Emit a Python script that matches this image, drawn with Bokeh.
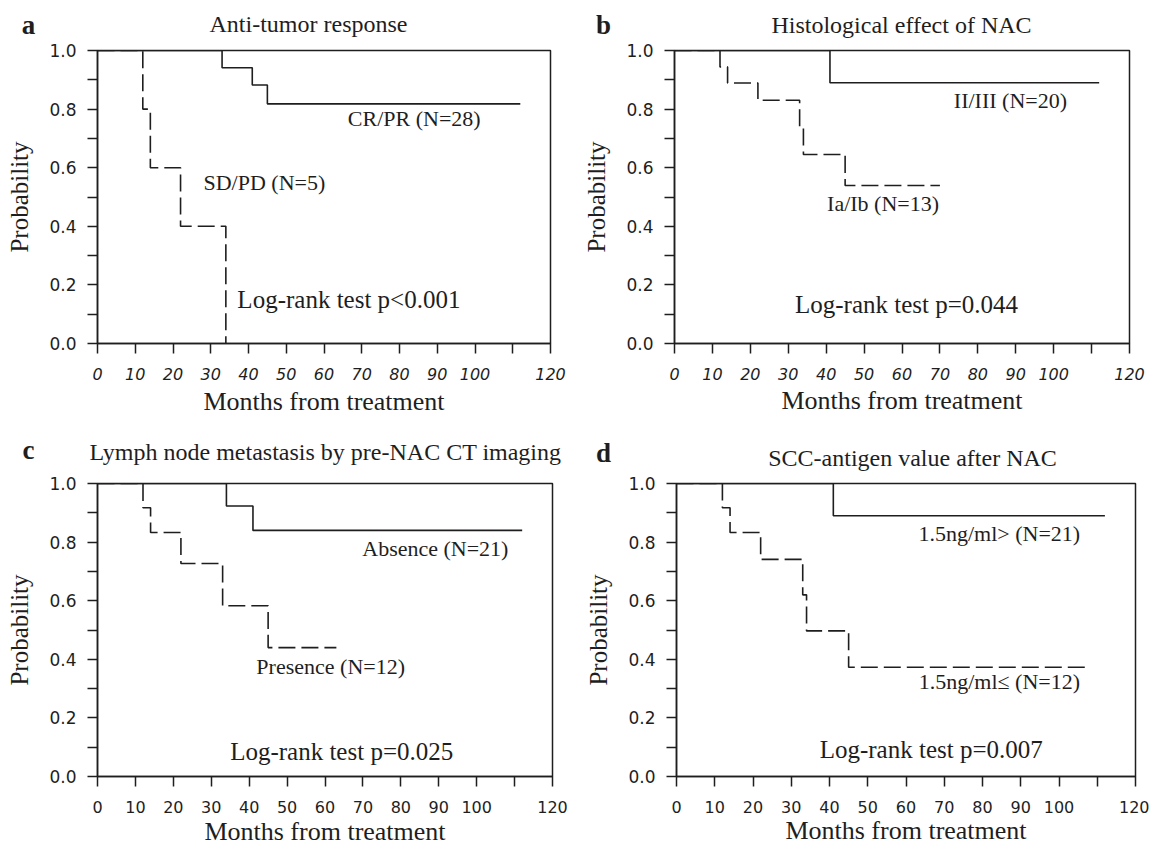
from bokeh.plotting import figure
from bokeh.models import Range1d, FixedTicker, Label, PrintfTickFormatter
from bokeh.layouts import column, row
from bokeh.embed import file_html
from bokeh.resources import INLINE

# ---------------- data ----------------
x_ticks = [0, 10, 20, 30, 40, 50, 60, 70, 80, 90, 100, 110, 120]
y_major = [0.0, 0.2, 0.4, 0.6, 0.8, 1.0]
y_minor = [0.1, 0.3, 0.5, 0.7, 0.9]

# a: Anti-tumor response
a_cr_months = [0, 33, 41, 45, 112]
a_cr_prob = [1.0, 0.941, 0.882, 0.818, 0.818]
a_sd_months = [0, 12, 14, 22, 34]
a_sd_prob = [1.0, 0.8, 0.6, 0.4, 0.0]

# b: Histological effect of NAC
b_hi_months = [0, 41, 112]
b_hi_prob = [1.0, 0.890, 0.890]
b_lo_months = [0, 12, 14, 22, 33, 34, 45, 70]
b_lo_prob = [1.0, 0.944, 0.889, 0.830, 0.738, 0.645, 0.539, 0.539]

# c: Lymph node metastasis
c_abs_months = [0, 34, 41, 112]
c_abs_prob = [1.0, 0.923, 0.840, 0.840]
c_pre_months = [0, 12, 14, 22, 33, 45, 63]
c_pre_prob = [1.0, 0.917, 0.833, 0.727, 0.583, 0.440, 0.440]

# d: SCC-antigen value after NAC
d_lo_months = [0, 41, 112]
d_lo_prob = [1.0, 0.890, 0.890]
d_hi_months = [0, 12, 14, 22, 33, 34, 45, 107]
d_hi_prob = [1.0, 0.917, 0.833, 0.741, 0.620, 0.497, 0.373, 0.373]

titles = ["Anti-tumor response", "Histological effect of NAC",
          "Lymph node metastasis by pre-NAC CT imaging", "SCC-antigen value after NAC"]
letters = ["a", "b", "c", "d"]
solid_labels = ["CR/PR (N=28)", "II/III (N=20)", "Absence (N=21)", "1.5ng/ml> (N=21)"]
dashed_labels = ["SD/PD (N=5)", "Ia/Ib (N=13)", "Presence (N=12)", "1.5ng/ml\u2264 (N=12)"]
pvalues = ["Log-rank test p<0.001", "Log-rank test p=0.044",
           "Log-rank test p=0.025", "Log-rank test p=0.007"]

INK = "#1e1e1e"
SERIF = "Liberation Serif"
SANS = "DejaVu Sans"
TOTAL_W, CELL_W, CELL_H = 1149, 574, 424
HEADER_TOP, HEADER_BOTTOM = 40, 48

# layout / style settings per panel (pixel positions of the header texts are
# measured from the top-left of each header strip)
panels = [
    dict(solid=(a_cr_months, a_cr_prob), dashed=(a_sd_months, a_sd_prob),
         borders=(97, 24, 10, 81), italic=True,
         solid_pos=(83.9, 0.768), dashed_pos=(44.2, 0.548), p_pos=(66.6, 0.150),
         title_px=(308, 23), letter_px=(28, 24.5), xlab_standoff=4),
    dict(solid=(b_hi_months, b_hi_prob), dashed=(b_lo_months, b_lo_prob),
         borders=(100, 20, 10, 81), italic=True,
         solid_pos=(88.6, 0.831), dashed_pos=(55.0, 0.479), p_pos=(61.2, 0.134),
         title_px=(901, 24), letter_px=(603, 24.5), xlab_standoff=3),
    dict(solid=(c_abs_months, c_abs_prob), dashed=(c_pre_months, c_pre_prob),
         borders=(97, 22, 10, 71), italic=False,
         solid_pos=(89.1, 0.777), dashed_pos=(61.5, 0.374), p_pos=(64.4, 0.087),
         title_px=(325, 27), letter_px=(28, 25), xlab_standoff=1),
    dict(solid=(d_lo_months, d_lo_prob), dashed=(d_hi_months, d_hi_prob),
         borders=(102, 14, 11, 70), italic=False,
         solid_pos=(84.4, 0.830), dashed_pos=(84.4, 0.325), p_pos=(66.6, 0.092),
         title_px=(912, 33), letter_px=(603, 28), xlab_standoff=0),
]


def txt(p, x, y, s, size, style="normal"):
    p.add_layout(Label(x=x, y=y, text=s, text_font=SERIF, text_font_size=size,
                       text_font_style=style, text_color=INK, text_align="center",
                       text_baseline="middle"))


def header(H, idxs):
    h = figure(width=TOTAL_W, height=H, x_range=Range1d(0, TOTAL_W), y_range=Range1d(0, H),
               output_backend="svg", toolbar_location=None, title=None,
               x_axis_type=None, y_axis_type=None,
               min_border_left=0, min_border_right=0, min_border_top=0, min_border_bottom=0)
    h.grid.visible = False
    h.outline_line_color = None
    h.background_fill_color = "white"
    h.border_fill_color = "white"
    for i in idxs:
        tx, ty = panels[i]["title_px"]
        lx, ly = panels[i]["letter_px"]
        txt(h, tx, H - ty, titles[i], "24px")
        txt(h, lx, H - ly, letters[i], "27px", style="bold")
    return h


def panel(i, H):
    cfg = panels[i]
    L, R, T, B = cfg["borders"]
    w = CELL_W if i % 2 == 0 else TOTAL_W - CELL_W
    p = figure(width=w, height=CELL_H - H, x_range=Range1d(0, 120), y_range=Range1d(0, 1),
               output_backend="svg", toolbar_location=None, title=None,
               min_border_left=L, min_border_right=R, min_border_top=T, min_border_bottom=B)
    p.grid.visible = False
    p.background_fill_color = "white"
    p.border_fill_color = "white"
    p.outline_line_color = INK
    p.outline_line_width = 1.5

    p.xaxis.ticker = FixedTicker(ticks=x_ticks)
    p.xaxis.major_label_overrides = {110: ""}
    p.yaxis.ticker = FixedTicker(ticks=y_major, minor_ticks=y_minor)
    p.yaxis.formatter = PrintfTickFormatter(format="%.1f")
    for ax in (p.xaxis, p.yaxis):
        ax.axis_line_color = INK
        ax.axis_line_width = 1.5
        ax.major_tick_line_color = INK
        ax.major_tick_line_width = 1.5
        ax.major_tick_in = 0
        ax.major_tick_out = 10
        ax.minor_tick_line_color = INK
        ax.minor_tick_line_width = 1.5
        ax.minor_tick_in = 0
        ax.minor_tick_out = 10
        ax.major_label_text_color = INK
        ax.major_label_text_font = SANS
        ax.axis_label_text_font = SERIF
        ax.axis_label_text_font_style = "normal"
        ax.axis_label_text_color = INK
    p.xaxis.minor_tick_line_color = None
    p.xaxis.major_label_text_font_size = "16px"
    p.yaxis.major_label_text_font_size = "17px"
    p.xaxis.major_label_standoff = 14
    p.yaxis.major_label_standoff = 11
    if cfg["italic"]:
        p.xaxis.major_label_text_font_style = "italic"
    p.yaxis.axis_label = "Probability"
    p.yaxis.axis_label_text_font_size = "25px"
    p.yaxis.axis_label_standoff = 13
    p.xaxis.axis_label = "Months from treatment"
    p.xaxis.axis_label_text_font_size = "26px"
    p.xaxis.axis_label_standoff = cfg["xlab_standoff"]

    sx, sy = cfg["solid"]
    dx, dy = cfg["dashed"]
    p.step(dx, dy, mode="after", line_color=INK, line_width=1.6, line_dash="17 6")
    p.step(sx, sy, mode="after", line_color=INK, line_width=1.6)

    txt(p, *cfg["solid_pos"], solid_labels[i], "22px")
    txt(p, *cfg["dashed_pos"], dashed_labels[i], "22px")
    txt(p, *cfg["p_pos"], pvalues[i], "25px")
    return p


layout = column(
    header(HEADER_TOP, [0, 1]),
    row(panel(0, HEADER_TOP), panel(1, HEADER_TOP)),
    header(HEADER_BOTTOM, [2, 3]),
    row(panel(2, HEADER_BOTTOM), panel(3, HEADER_BOTTOM)),
)
open("out.html", "w").write(file_html(layout, INLINE))
